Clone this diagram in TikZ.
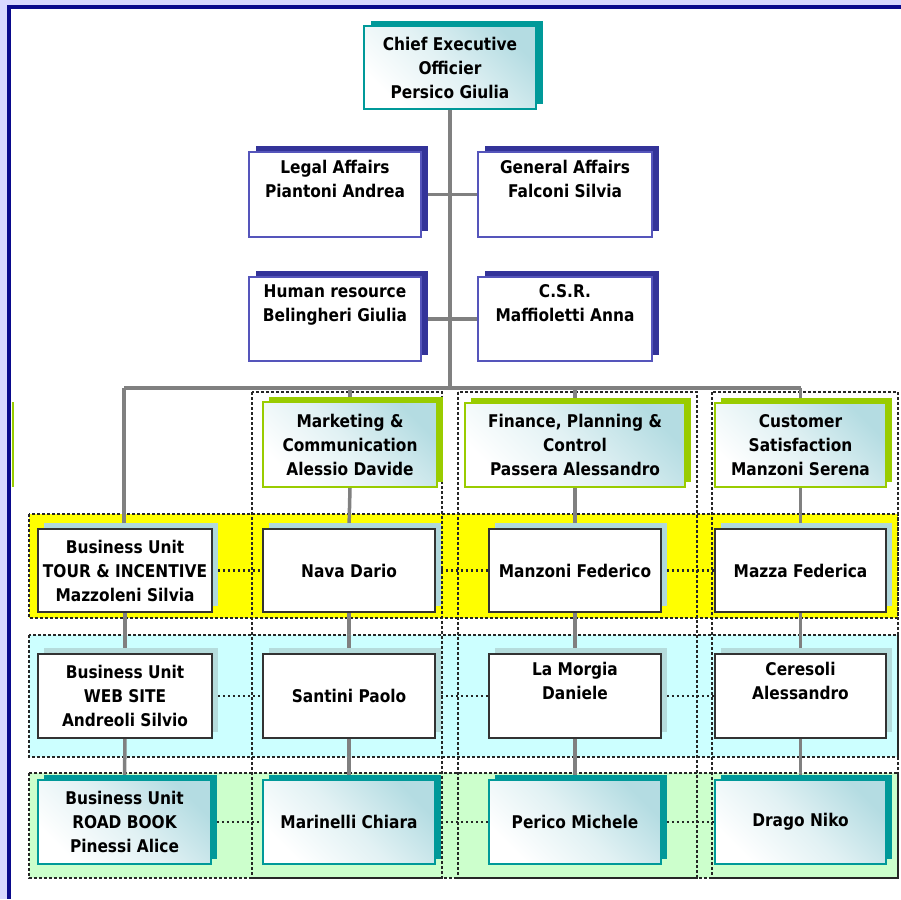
\documentclass[tikz,border=0pt]{standalone}
\usepackage{fontspec}
\newfontfamily\bxfont{DejaVu Sans}[FakeStretch=0.88]
\usetikzlibrary{shadows}
\pgfdeclarelayer{bands}
\pgfdeclarelayer{links}
\pgfsetlayers{bands,links,main}
\definecolor{lav}{HTML}{D8D8FF}
\definecolor{navy}{HTML}{0A0A8C}
\definecolor{conncol}{HTML}{808080}
\definecolor{teal1}{HTML}{009999}
\definecolor{gradc}{HTML}{B4DCE2}
\definecolor{staffsh}{HTML}{333399}
\definecolor{staffbd}{HTML}{5555BB}
\definecolor{lime}{HTML}{99CC00}
\definecolor{band1}{HTML}{FFFF00}
\definecolor{band2}{HTML}{CCFFFF}
\definecolor{band3}{HTML}{CCFFCC}
\definecolor{dotc}{HTML}{262626}
\definecolor{bxbd}{HTML}{333333}
\definecolor{sh1}{HTML}{B0D8DC}
\definecolor{sh2}{HTML}{B5DCDC}
\tikzset{
  base/.style={align=center, inner sep=0pt, text=black,
    font=\bxfont\bfseries\fontsize{17.5}{24}\selectfont},
  grad/.style={top color=gradc, bottom color=white, middle color=white!60!gradc, shading angle=-45},
  ceobox/.style={base, draw=teal1, line width=1.4pt, grad,
    minimum width=172pt, minimum height=83pt,
    drop shadow={shadow xshift=7pt, shadow yshift=5pt, fill=teal1, opacity=1}},
  staffbox/.style={base, draw=staffbd, line width=1.3pt, fill=white,
    minimum width=172pt, minimum height=85pt,
    drop shadow={shadow xshift=7pt, shadow yshift=6pt, fill=staffsh, opacity=1}},
  deptbox/.style={base, draw=lime, line width=1.5pt, grad,
    minimum height=84pt,
    drop shadow={shadow xshift=6pt, shadow yshift=5pt, fill=lime, opacity=1}},
  ybox/.style={base, draw=bxbd, line width=1.5pt, fill=white,
    minimum height=83pt,
    drop shadow={shadow xshift=6pt, shadow yshift=6pt, fill=sh1, opacity=1}},
  cbox/.style={base, draw=bxbd, line width=1.5pt, fill=white,
    minimum height=84pt,
    drop shadow={shadow xshift=6pt, shadow yshift=6pt, fill=sh2, opacity=1}},
  gbox/.style={base, draw=teal1, line width=1.5pt, grad,
    minimum height=84pt,
    drop shadow={shadow xshift=6pt, shadow yshift=5pt, fill=teal1, opacity=1}},
  link/.style={draw=conncol, line width=3.5pt},
  dotline/.style={draw=dotc, line width=2.8pt, dash pattern=on 2.6pt off 2.4pt},
}
\begin{document}
\begin{tikzpicture}[x=1pt,y=-1pt]
\useasboundingbox (0,0) rectangle (901,899);
\begin{pgfonlayer}{bands}
% frame
\fill[white] (0,0) rectangle (901,899);
\fill[lav] (0,0) rectangle (7,899);
\fill[lav] (0,0) rectangle (901,5);
\fill[navy] (7,5) rectangle (11,899);
\fill[navy] (7,5) rectangle (901,9);
\draw[lime, line width=1.5pt] (13,402) -- (13,487);
% bands
\fill[band1] (29,514) rectangle (898,618);
\draw[dotline] (29,514) rectangle (898,618);
\fill[band2] (29,635) rectangle (898,757);
\draw[dotline] (29,635) rectangle (898,757);
\fill[band3] (29,773) rectangle (898,878);
\draw[dotline] (29,773) rectangle (898,878);
% column groups
\draw[dotline] (252,392) rectangle (442,878);
\draw[dotline] (458,392) rectangle (697,878);
\draw[dotline] (712,392) rectangle (898,878);
\end{pgfonlayer}
% coordinates
\coordinate (barL) at (124,388);
\coordinate (barR) at (801,388);
\coordinate (barM) at (450,388);
% nodes
\node[ceobox] (ceo) at (450,67.5) {Chief Executive\\Officier\\Persico Giulia};
\node[staffbox] (legal) at (335,194.5) {Legal Affairs\\Piantoni Andrea\\\strut};
\node[staffbox, minimum width=174pt] (general) at (565,194.5) {General Affairs\\Falconi Silvia\\\strut};
\node[staffbox, minimum height=84pt] (hr) at (335,319) {Human resource\\Belingheri Giulia\\\strut};
\node[staffbox, minimum width=174pt, minimum height=84pt] (csr) at (565,319) {C.S.R.\\Maffioletti Anna\\\strut};
\node[deptbox, minimum width=174pt, minimum height=85pt] (mkt) at (350,444.5) {Marketing \&\\Communication\\Alessio Davide};
\node[deptbox, minimum width=220pt] (fin) at (575,445) {Finance, Planning \&\\Control\\Passera Alessandro};
\node[deptbox, minimum width=171pt] (cust) at (800.5,445) {Customer\\Satisfaction\\Manzoni Serena};
% row 1
\node[ybox, minimum width=174pt] (r1c1) at (125,570.5) {Business Unit\\TOUR \& INCENTIVE\\Mazzoleni Silvia};
\node[ybox, minimum width=172pt] (r1c2) at (349,570.5) {Nava Dario};
\node[ybox, minimum width=172pt] (r1c3) at (575,570.5) {Manzoni Federico};
\node[ybox, minimum width=171pt] (r1c4) at (800.5,570.5) {Mazza Federica};
% row 2
\node[cbox, minimum width=174pt] (r2c1) at (125,696) {Business Unit\\WEB SITE\\Andreoli Silvio};
\node[cbox, minimum width=172pt] (r2c2) at (349,696) {Santini Paolo};
\node[cbox, minimum width=172pt] (r2c3) at (575,696) {La Morgia\\Daniele\\\strut};
\node[cbox, minimum width=171pt] (r2c4) at (800.5,696) {Ceresoli\\Alessandro\\\strut};
% row 3
\node[gbox, minimum width=173pt] (r3c1) at (124.5,822) {Business Unit\\ROAD BOOK\\Pinessi Alice};
\node[gbox, minimum width=172pt] (r3c2) at (349,822) {Marinelli Chiara};
\node[gbox, minimum width=172pt] (r3c3) at (575,822) {Perico Michele};
\node[gbox, minimum width=171pt] (r3c4) at (800.5,822) {Drago Niko\strut};
% connectors
\begin{pgfonlayer}{links}
\draw[link, line width=4pt] (ceo.south) -- (barM);
\draw[link] (barL) -- (barR);
\draw[link] (legal.east) -- (general.west);
\draw[link] (hr.east) -- (csr.west);
\draw[link] (barL) -- (barL |- r1c1.north);
\draw[link] (mkt.north) -- (mkt.north |- barL);
\draw[link] (fin.north) -- (fin.north |- barL);
\draw[link] (cust.north) -- (cust.north |- barL);
\draw[link] (r1c1.south) -- (r2c1.north);
\draw[link] (r2c1.south) -- (r3c1.north);
\draw[link] (mkt.south) -- (r1c2.north);
\draw[link] (r1c2.south) -- (r2c2.north);
\draw[link] (r2c2.south) -- (r3c2.north);
\draw[link] (fin.south) -- (r1c3.north);
\draw[link] (r1c3.south) -- (r2c3.north);
\draw[link] (r2c3.south) -- (r3c3.north);
\draw[link] (cust.south) -- (r1c4.north);
\draw[link] (r1c4.south) -- (r2c4.north);
\draw[link] (r2c4.south) -- (r3c4.north);
\draw[dotline] (r1c1.east) -- (r1c2.west);
\draw[dotline] (r1c2.east) -- (r1c3.west);
\draw[dotline] (r1c3.east) -- (r1c4.west);
\draw[dotline] (r2c1.east) -- (r2c2.west);
\draw[dotline] (r2c2.east) -- (r2c3.west);
\draw[dotline] (r2c3.east) -- (r2c4.west);
\draw[dotline] (r3c1.east) -- (r3c2.west);
\draw[dotline] (r3c2.east) -- (r3c3.west);
\draw[dotline] (r3c3.east) -- (r3c4.west);
\end{pgfonlayer}
\end{tikzpicture}
\end{document}
